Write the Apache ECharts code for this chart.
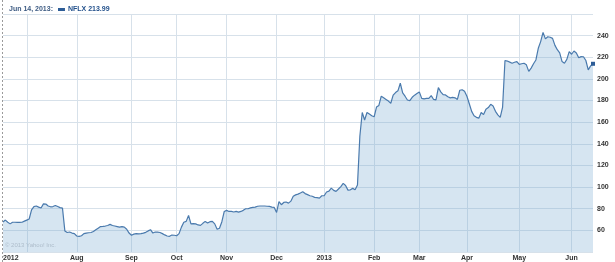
<!DOCTYPE html>
<html><head><meta charset="utf-8">
<script src="https://cdn.jsdelivr.net/npm/echarts@6/dist/echarts.min.js"></script>
<style>html,body{margin:0;padding:0;background:#fff}#c{width:615px;height:262px}</style>
</head><body><div id="c"></div>
<script>
// Trading calendar (NYSE) for the one-year window
const startDate = '2012-06-18';
const endDate = '2013-06-14';
const holidays = ['2012-07-04','2012-09-03','2012-10-29','2012-10-30','2012-11-22','2012-12-25',
  '2013-01-01','2013-01-21','2013-02-18','2013-03-29','2013-05-27'];

// NFLX daily closes, split by quarter
const closesQ2_2012 = [67.7,69.5,67.5,66,67.5,67.5,67.3,67.3,67.5,68.5];
const closesQ3_2012 = [69.5,70.5,79,82,82.5,81.5,80.7,84.5,84.3,82.5,81.8,82,83,82,81,80.5,
  59.5,58,58.5,57.5,57,54.8,54.5,55,57,57.5,57.8,58,59,60.5,62,63.5,63.7,64,64.5,65.5,64.5,64,63.5,63,63.5,
  63,61,57.5,55.5,56.5,57,56.8,57,57.5,58.2,59.5,60.6,57.5,58.5,58.3,58,57,55.8,54.8,54.5,55.7,55.5];
const closesQ4_2012 = [55,57,63,67.5,68.3,73.8,66,66.2,66,65,64.6,66.5,68.3,66.8,68,68.3,66,61,62,68,
  77.5,78.5,77.5,77.5,77,77.5,76.8,77.5,78.5,
  80,80,80.8,81.2,81.5,82.3,82.5,82.5,82.5,82.3,82.2,81.5,81.2,76.6,86.5,83.7,85.8,86.2,85.2,87,
  91.5,92.8,93.5,94.5,95.7,94,93,92,91.5,90.5,90.2,89.8,92];
const closesQ1_2013 = [92,95.5,96.3,99,97,96,98.2,100.5,103.4,101.5,97.2,97.5,98.8,97.5,102,
  147,169,162,169,167.5,166,165,174,175.5,184,182.5,181,179.5,177.5,185,187.4,189,196,187,184,
  180.5,180,183,185,186.5,188,182,181.5,182,182,184.5,181,180.6,192,188,185.5,185.2,183.5,182.5,
  183,182.5,181,189.5,190,188.5];
const closesQ2_2013 = [184,177,170,166,164.5,163.7,169,167,172,173.5,176.5,175,170,166.8,164.5,174,
  217,216.5,215.5,214.5,215.4,216,213.5,214,214.5,213,207,210,214,217.5,228.3,234.5,243,237,239,
  238.5,237.5,231,227,224,216,214.5,218,225.2,222.8,225.8,224,219.5,220.6,220.5,217,208.3,212,213.99];

const yTicks = [60,80,100,120,140,160,180,200,220,240];
const monthNames = ['Jan','Feb','Mar','Apr','May','Jun','Jul','Aug','Sep','Oct','Nov','Dec'];
const ticker = 'NFLX';
const headerDate = 'Jun 14, 2013:';
const watermark = '\u00a9 2013 Yahoo! Inc.';

// build categories
const categories = [];
(function(){
  let d = new Date(startDate + 'T00:00:00Z');
  const end = new Date(endDate + 'T00:00:00Z');
  while (d <= end) {
    const s = d.toISOString().slice(0,10);
    const wd = d.getUTCDay();
    if (wd !== 0 && wd !== 6 && holidays.indexOf(s) < 0) categories.push(s);
    d = new Date(d.getTime() + 86400000);
  }
})();
const closes = [].concat(closesQ2_2012, closesQ3_2012, closesQ4_2012, closesQ1_2013, closesQ2_2013);
const lastVal = closes[closes.length-1];

function monthOf(i){ return categories[i].slice(0,7); }
function isMonthStart(i){ return i > 0 && monthOf(i) !== monthOf(i-1); }

const chart = echarts.init(document.getElementById('c'), null, {renderer:'canvas'});
const FONT = '"Liberation Sans", Arial, sans-serif';
chart.setOption({
  animation: false,
  backgroundColor: '#fff',
  textStyle: { fontFamily: FONT },
  title: {
    left: 4, top: 1,
    text: '{d|' + headerDate + '}{b|}{n|' + ticker + ' ' + lastVal.toFixed(2) + '}',
    textStyle: {
      rich: {
        d: { fontFamily: FONT, fontSize: 7, fontWeight: 'bold', color: '#3c5a82', padding: [0, 5, 0, 0] },
        b: { backgroundColor: '#2d5d97', width: 7, height: 3, padding: 0 },
        n: { fontFamily: FONT, fontSize: 7, fontWeight: 'bold', color: '#23518c', padding: [0, 0, 0, 3] }
      }
    }
  },
  graphic: [
    { type: 'line', shape: { x1: 2.5, y1: 0, x2: 2.5, y2: 262 },
      style: { stroke: '#9a9a9a', lineWidth: 1, lineDash: [2, 2] }, z: 100 },
    { type: 'text', left: 5, top: 242,
      style: { text: watermark, fill: '#aebdcb', font: '6px ' + FONT }, z: 100 }
  ],
  grid: { left: 3, right: 22, top: 14, bottom: 10, containLabel: false },
  xAxis: {
    type: 'category', data: categories, boundaryGap: false,
    axisLine: { show: false }, axisTick: { show: false },
    axisLabel: {
      interval: function(i){ return i === 0 || (isMonthStart(i) && categories[i].slice(5,7) !== '07'); },
      formatter: function(v, i){
        if (i === 0) return v.slice(0,4);
        const m = parseInt(v.slice(5,7),10);
        return m === 1 ? v.slice(0,4) : monthNames[m-1];
      },
      alignMinLabel: 'left',
      fontFamily: FONT, fontSize: 7, fontWeight: 'bold', color: '#333', margin: 3
    },
    splitLine: { show: true, interval: function(i){ return isMonthStart(i); },
      lineStyle: { color: '#d7e1ea', width: 1 } }
  },
  yAxis: {
    type: 'value', position: 'right', min: 40, max: 260, interval: 20,
    axisLine: { show: false }, axisTick: { show: false },
    axisLabel: {
      formatter: function(v){ return yTicks.indexOf(v) >= 0 ? String(v) : ''; },
      fontFamily: FONT, fontSize: 7, fontWeight: 'bold', color: '#333', margin: 4
    },
    splitLine: { lineStyle: { color: '#d7e1ea', width: 1 } }
  },
  series: [{
    type: 'line', data: closes, symbol: 'none', smooth: false,
    lineStyle: { color: '#4a7aad', width: 1.2 },
    areaStyle: { color: 'rgba(120,170,210,0.3)', opacity: 1 },
    markPoint: {
      symbol: 'rect', symbolSize: 4, silent: true,
      itemStyle: { color: '#2d5d97' }, label: { show: false },
      data: [{ coord: [categories[categories.length-1], lastVal] }]
    }
  }]
});
</script></body></html>
